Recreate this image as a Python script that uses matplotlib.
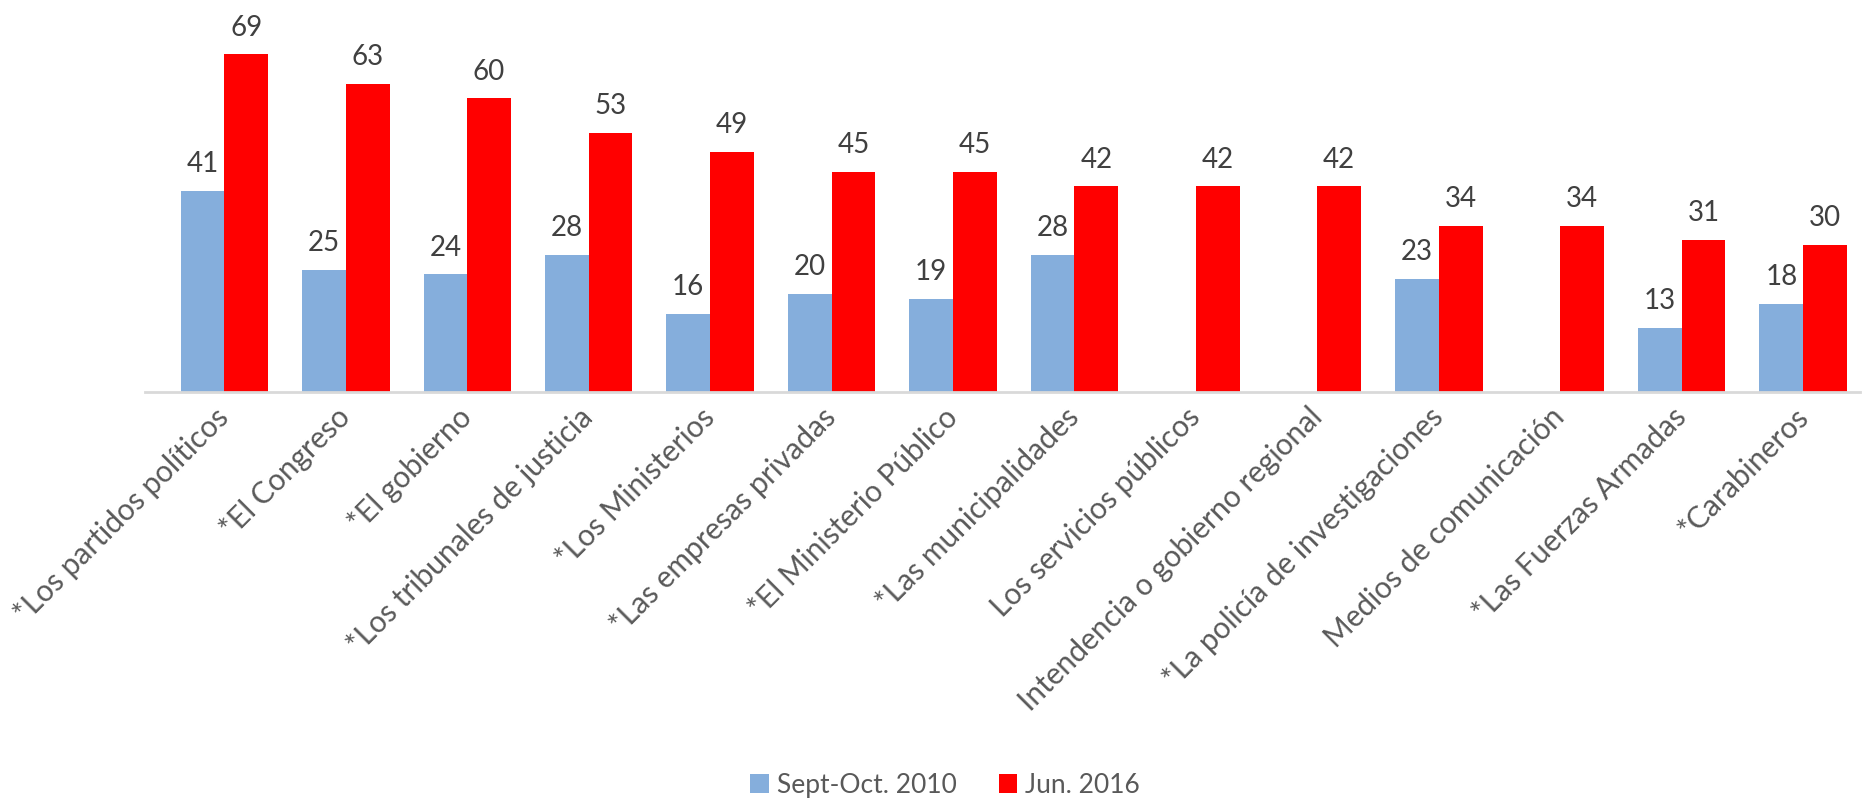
import numpy as np
import matplotlib
matplotlib.use("Agg")
import matplotlib.pyplot as plt

plt.rcParams['font.family'] = ['Lato', 'DejaVu Sans']

categorias = ["*Los partidos políticos", "*El Congreso", "*El gobierno",
              "*Los tribunales de justicia", "*Los Ministerios",
              "*Las empresas privadas", "*El Ministerio Público",
              "*Las municipalidades", "Los servicios públicos",
              "Intendencia o gobierno regional", "*La policía de investigaciones",
              "Medios de comunicación", "*Las Fuerzas Armadas", "*Carabineros"]
serie_2010 = [41, 25, 24, 28, 16, 20, 19, 28, np.nan, np.nan, 23, np.nan, 13, 18]
serie_2016 = [69, 63, 60, 53, 49, 45, 45, 42, 42, 42, 34, 34, 31, 30]
nombres = ["Sept-Oct. 2010", "Jun. 2016"]

color_azul = "#85AEDC"
color_rojo = "#FF0000"

fig = plt.figure(figsize=(18.64, 8.08), dpi=100)
ax = fig.add_axes([0.078, 0.515, 0.92, 0.454])

x = np.arange(len(categorias))
w = 0.36
b1 = ax.bar(x - w / 2, serie_2010, w, color=color_azul, label=nombres[0])
b2 = ax.bar(x + w / 2, serie_2016, w, color=color_rojo, label=nombres[1])

for barras, vals in ((b1, serie_2010), (b2, serie_2016)):
    for rect, v in zip(barras, vals):
        if np.isnan(v):
            continue
        ax.annotate("{0:d}".format(int(v)),
                    (rect.get_x() + rect.get_width() / 2, rect.get_height()),
                    xytext=(0, 10), textcoords="offset points",
                    ha="center", va="bottom", fontsize=20, color="#404040")

ax.set_xlim(-0.65, len(categorias) - 0.53)
ax.set_ylim(0, 75)
ax.set_yticks([])
for s in ("top", "right", "left"):
    ax.spines[s].set_visible(False)
ax.spines["bottom"].set_color("#D9D9D9")
ax.spines["bottom"].set_linewidth(2)

ax.set_xticks(x)
ax.set_xticklabels(categorias, rotation=45, ha="right", va="center",
                   rotation_mode="anchor", fontsize=21.5, color="#595959")
ax.tick_params(axis="x", length=0, pad=15)

fig.legend(handles=[b1, b2], loc="center", bbox_to_anchor=(0.507, 0.028),
           ncol=2, frameon=False, fontsize=19, labelcolor="#595959",
           handlelength=0.7, handleheight=0.7, handletextpad=0.3,
           columnspacing=1.6)

plt.savefig("out.png", dpi=100)
